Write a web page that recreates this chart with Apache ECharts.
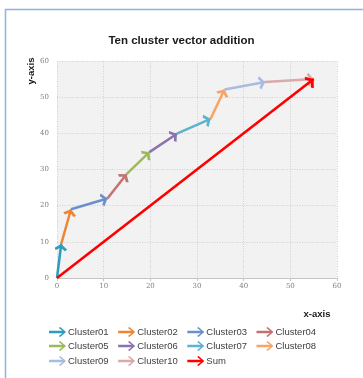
<!DOCTYPE html>
<html>
<head>
<meta charset="utf-8">
<script src="https://cdn.jsdelivr.net/npm/echarts@6/dist/echarts.min.js"></script>
<style>html,body{margin:0;padding:0;background:#fff}#c{width:363px;height:378px}</style>
</head>
<body>
<div id="c"></div>
<script>
const clusterNames = ['Cluster01','Cluster02','Cluster03','Cluster04','Cluster05','Cluster06','Cluster07','Cluster08','Cluster09','Cluster10'];
// cumulative end point of each cluster vector
const endX = [0.9, 3.0, 10.8, 14.9, 19.8, 25.7, 32.9, 35.9, 44.6, 55.0];
const endY = [9.4, 19.0, 22.0, 28.7, 34.8, 39.9, 44.0, 52.1, 54.2, 55.0];
const clusterColors = ['#2F9CB9','#EE8532','#6B8FCD','#C17272','#9BBB59','#8A73AE','#5BB3CE','#F7A468','#A8BBE0','#D8AAA9'];
const sumName = 'Sum';
const sumColor = '#FF0000';
const xTicks = [0,10,20,30,40,50,60];
const yTicks = [0,10,20,30,40,50,60];

const arrowHead = 'path://M5,0 L10,5 L8.3,6.7 L5,3.4 L1.7,6.7 L0,5 Z M5,-6.7 L5.01,-6.7 Z';
const legendIcon = 'path://M0,3.8 L13.4,3.8 L9.8,1.0 L11.2,0 L17,5 L11.2,10 L9.8,9.0 L13.4,6.2 L0,6.2 Z';

function vec(name, color, from, to, width, size) {
  return {
    type: 'lines', name: name, coordinateSystem: 'cartesian2d',
    symbol: ['none', arrowHead], symbolSize: size,
    lineStyle: { color: color, width: width, opacity: 1, cap: 'butt' },
    itemStyle: { color: color },
    color: color,
    z: 3,
    data: [{ coords: [from, to] }]
  };
}
const series = clusterNames.map((n, i) => vec(n, clusterColors[i],
  i === 0 ? [0, 0] : [endX[i-1], endY[i-1]], [endX[i], endY[i]], 2.5, [10, 13.4]));
series.push(vec(sumName, sumColor, [0, 0], [endX[endX.length-1], endY[endY.length-1]], 2.6, [11, 14.7]));

const allNames = clusterNames.concat([sumName]);
const allColors = clusterColors.concat([sumColor]);
function legendRow(start, end, top) {
  return {
    left: 49, top: top, orient: 'horizontal', padding: 0, itemGap: 9.5,
    itemWidth: 17, itemHeight: 10, selectedMode: false,
    textStyle: { fontSize: 9.5, color: '#404040', fontFamily: 'Liberation Sans', padding: [0,0,0,-3] },
    data: allNames.slice(start, end).map((n, k) => ({ name: n, icon: legendIcon, itemStyle: { color: allColors[start + k], borderWidth: 0 } }))
  };
}

const chart = echarts.init(document.getElementById('c'), null, { renderer: 'canvas' });
chart.setOption({
  animation: false,
  backgroundColor: '#ffffff',
  title: { text: 'Ten cluster vector addition', left: 'center', top: 30,
    textStyle: { fontSize: 11.5, fontWeight: 'bold', color: '#1a1a1a', fontFamily: 'Liberation Sans' } },
  grid: { left: 57, right: 26, top: 61, bottom: 100, show: true, backgroundColor: '#f2f2f2', borderWidth: 0 },
  xAxis: { type: 'value', min: xTicks[0], max: xTicks[xTicks.length-1], interval: 10,
    axisLine: { show: true, lineStyle: { color: '#c4c4c4', width: 1 } },
    axisTick: { show: true, length: 3, lineStyle: { color: '#c4c4c4' } },
    axisLabel: { fontSize: 7, color: '#808080', margin: 5, fontFamily: 'DejaVu Serif' },
    splitLine: { show: true, lineStyle: { color: '#d0d0d0', type: [1, 1.5], width: 1 } } },
  yAxis: { type: 'value', min: yTicks[0], max: yTicks[yTicks.length-1], interval: 10,
    axisLine: { show: false }, axisTick: { show: false },
    axisLabel: { fontSize: 7, color: '#808080', margin: 8, fontFamily: 'DejaVu Serif' },
    splitLine: { show: true, lineStyle: { color: '#d0d0d0', type: [1, 1.5], width: 1 } } },
  legend: [legendRow(0, 4, 327), legendRow(4, 8, 341), legendRow(8, 11, 356)],
  graphic: [
    { type: 'rect', shape: { x: 5.5, y: 9.5, width: 400, height: 400 }, style: { fill: 'none', stroke: '#8DB3E2', lineWidth: 1.5 }, silent: true },
    { type: 'text', x: 31, y: 71, rotation: Math.PI / 2, style: { text: 'y-axis', fontSize: 9.5, fontWeight: 'bold', fill: '#1a1a1a', fontFamily: 'Liberation Sans', align: 'center', verticalAlign: 'middle' } },
    { type: 'text', x: 317, y: 314, style: { text: 'x-axis', fontSize: 9.5, fontWeight: 'bold', fill: '#1a1a1a', fontFamily: 'Liberation Sans', align: 'center', verticalAlign: 'middle' } }
  ],
  series: series
});
</script>
</body>
</html>
